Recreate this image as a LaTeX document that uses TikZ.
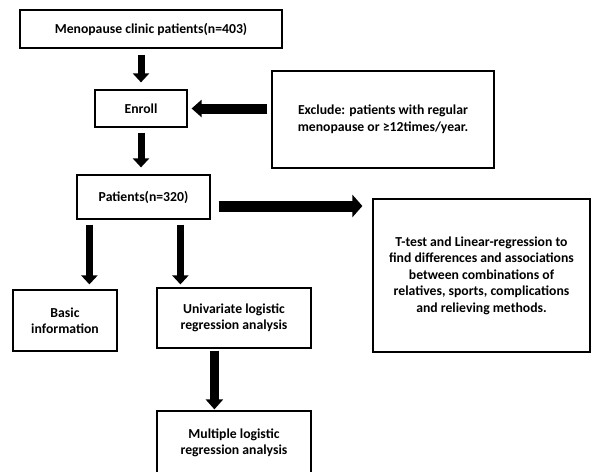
\documentclass[tikz,border=0pt]{standalone}
\usepackage{fontspec}
\setmainfont{Carlito}
\usetikzlibrary{arrows.meta,calc}
\begin{document}
\begin{tikzpicture}[x=1pt,y=-1pt,
  box/.style={draw,line width=1.2pt,align=center,inner sep=0pt,font=\fontsize{13.7}{16.5}\selectfont\bfseries},
  arrv/.style={line width=7pt,-{Triangle[width=16pt,length=9pt]}},
  arrh/.style={line width=10pt,-{Triangle[width=17pt,length=10pt]}},
  arrbig/.style={line width=11pt,-{Triangle[width=22pt,length=10pt]}}]
\useasboundingbox (0,0) rectangle (593,471);
\node[box,minimum width=262pt,minimum height=38pt] (m1) at (151,29) {Menopause clinic patients(n=403)};
\node[box,minimum width=92pt,minimum height=37pt] (enroll) at (141,108.5) {Enroll};
\node[box,minimum width=222pt,minimum height=97pt] (excl) at (383,119.5) {Exclude: patients with regular\\menopause or ≥12times/year.};
\node[box,minimum width=133pt,minimum height=44pt] (pat) at (143.5,197) {Patients(n=320)};
\node[box,minimum width=217pt,minimum height=153pt] (tt) at (481.5,275.5) {T-test and Linear-regression to\\find differences and associations\\between combinations of\\relatives, sports, complications\\and relieving methods.};
\node[box,minimum width=104pt,minimum height=61pt] (basic) at (65,320.5) {Basic\\information};
\node[box,minimum width=154pt,minimum height=60pt] (uni) at (234,318) {Univariate logistic\\regression analysis};
\node[box,minimum width=154pt,minimum height=64pt] (multi) at (234,443) {Multiple logistic\\regression analysis};
\coordinate (pe) at ([yshift=-9pt]pat.east);
\coordinate (pb) at ([xshift=13pt]pat.south west);
\coordinate (pu) at ([xshift=104pt]pat.south west);
\coordinate (um) at ([xshift=58pt]uni.south west);
\draw[arrv,shorten <=6pt,shorten >=7pt] (m1.south -| enroll.north) -- (enroll.north);
\draw[arrv,shorten <=5pt,shorten >=7pt] (enroll.south) -- (enroll.south |- pat.north);
\draw[arrh,shorten <=4pt,shorten >=4pt] (excl.west |- enroll.east) -- (enroll.east);
\draw[arrbig,shorten <=8pt,shorten >=10pt] (pe) -- (tt.west |- pe);
\draw[arrv,shorten <=5pt,shorten >=5pt] (pb) -- (pb |- basic.north);
\draw[arrv,shorten <=5pt,shorten >=3pt] (pu) -- (pu |- uni.north);
\draw[line width=9pt,-{Triangle[width=17pt,length=10pt]},shorten <=2pt,shorten >=1pt] (um) -- (um |- multi.north);
\end{tikzpicture}
\end{document}
